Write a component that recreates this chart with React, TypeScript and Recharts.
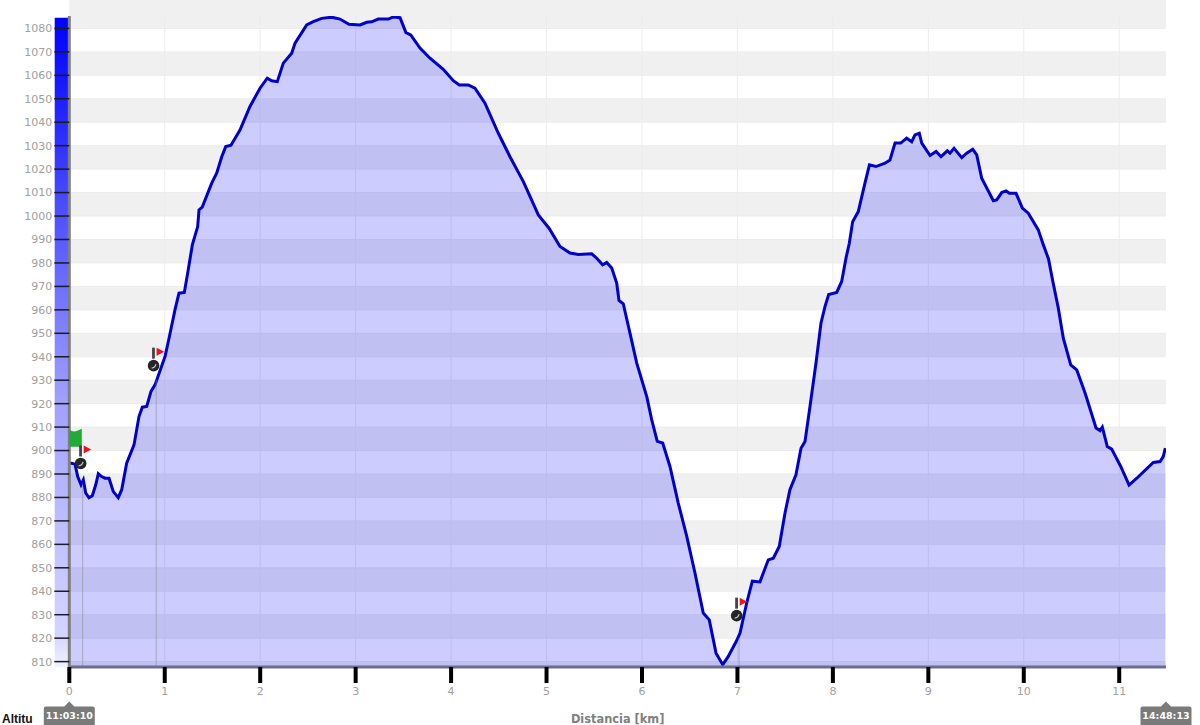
import { Area, AreaChart, CartesianGrid, ReferenceArea, ReferenceDot, ReferenceLine, XAxis, YAxis } from "recharts"

const distanceKm = [
  0, 0.025, 0.06, 0.088, 0.123, 0.147, 0.172, 0.206, 0.241, 0.277, 0.304, 0.339, 0.374, 0.416, 0.461, 0.513, 0.549, 0.601, 0.678, 0.73,
  0.765, 0.811, 0.856, 0.898, 1.003, 1.045, 1.107, 1.149, 1.205, 1.24, 1.289, 1.345, 1.359, 1.393, 1.492, 1.544, 1.597, 1.639, 1.694, 1.788,
  1.893, 1.998, 2.074, 2.121, 2.179, 2.242, 2.33, 2.365, 2.487, 2.556, 2.644, 2.749, 2.836, 2.93, 3.046, 3.116, 3.168, 3.237, 3.342, 3.395,
  3.465, 3.527, 3.577, 3.674, 3.779, 3.918, 4.023, 4.086, 4.18, 4.25, 4.355, 4.495, 4.617, 4.757, 4.914, 5.026, 5.141, 5.246, 5.333, 5.473,
  5.526, 5.588, 5.63, 5.683, 5.735, 5.759, 5.804, 5.874, 5.945, 6.05, 6.102, 6.16, 6.217, 6.293, 6.38, 6.469, 6.555, 6.642, 6.705, 6.776,
  6.846, 6.904, 6.992, 7.027, 7.097, 7.156, 7.236, 7.323, 7.376, 7.438, 7.498, 7.55, 7.613, 7.666, 7.708, 7.76, 7.823, 7.875, 7.917, 7.956,
  8.04, 8.092, 8.137, 8.172, 8.207, 8.266, 8.336, 8.383, 8.451, 8.546, 8.598, 8.651, 8.711, 8.773, 8.826, 8.86, 8.905, 8.931, 9.018, 9.081,
  9.133, 9.199, 9.227, 9.269, 9.35, 9.402, 9.465, 9.507, 9.559, 9.681, 9.716, 9.769, 9.814, 9.849, 9.919, 9.985, 10.047, 10.152, 10.205, 10.259,
  10.303, 10.362, 10.414, 10.492, 10.555, 10.642, 10.757, 10.799, 10.823, 10.875, 10.921, 11.016, 11.103, 11.184, 11.357, 11.428, 11.462, 11.483,
]

const altitudeM = [
  894.6, 894.6, 894.2, 888.9, 885.4, 887.5, 881.9, 879.9, 880.7, 885.4, 890.1, 888.9, 888.2, 888.2, 882.5, 879.9, 883.3, 894.6, 902.4, 914.5,
  918.5, 918.8, 925.2, 928, 940.1, 947.9, 960, 967.1, 967.4, 975.6, 987.7, 995.5, 1002.6, 1003.8, 1014, 1018.3, 1025.3, 1029.6, 1030.2, 1036.7,
  1046.7, 1054.5, 1058.8, 1057.7, 1057.3, 1065.2, 1069.4, 1073.7, 1081.5, 1082.9, 1084.3, 1084.8, 1084, 1081.8, 1081.5, 1082.6, 1082.8, 1084, 1084, 1084.9,
  1084.6, 1078.2, 1077.2, 1071.6, 1067.3, 1062.6, 1057.7, 1055.9, 1055.9, 1054.5, 1048.1, 1035.3, 1025.3, 1014.7, 1000.5, 994.8, 987, 984.2, 983.6, 983.9,
  982, 979.2, 980.2, 977.8, 971.4, 964, 962.6, 950.1, 937.3, 923, 913.1, 903.9, 903.2, 893.2, 877.6, 863.4, 847.8, 830.7, 827.8, 813.6,
  808.7, 812.2, 819, 822.2, 835, 844.3, 844, 853.4, 854.1, 859.1, 873.3, 883.3, 889.7, 901, 903.9, 918.8, 937.3, 954.3, 961.4, 966.5,
  967.4, 972.1, 982, 988.4, 997.6, 1001.9, 1014, 1021.8, 1021.1, 1022.5, 1023.9, 1031.1, 1031.1, 1033.2, 1031.7, 1034.6, 1035.3, 1031.1, 1025.8, 1027.5,
  1025.3, 1027.8, 1026.8, 1028.9, 1024.9, 1026.8, 1028.5, 1026.1, 1016.1, 1006.5, 1006.9, 1010, 1010.7, 1009.7, 1009.7, 1003.4, 1001.2, 994.1, 987.7, 981.7,
  972.4, 960.7, 947.9, 936.5, 934.4, 924.5, 909.6, 908.5, 910, 901.7, 900.6, 893.2, 885.3, 888.2, 894.9, 895.3, 897.5, 901,
]

const kmTicks = [0, 1, 2, 3, 4, 5, 6, 7, 8, 9, 10, 11]
const altTicks = [
  810, 820, 830, 840, 850, 860, 870, 880, 890, 900, 910, 920, 930, 940, 950, 960, 970, 980, 990, 1000, 1010, 1020, 1030, 1040, 1050, 1060,
  1070, 1080,
]

const lapKm = [0.119, 0.883, 6.992]
const lapAlt = [894.5, 936.2, 829.6]
const lapLineKm = [0.14, 0.91, 7.017]
const lapLineAlt = [886, 930, 820]

const startTime = "11:03:10"
const endTime = "14:48:13"

const minAlt = 807.7
const maxAlt = 1085.3
const maxKm = 11.49

const rows = distanceKm.map((km, i) => ({ km, alt: altitudeM[i] }))

const font = "'DejaVu Sans', Verdana, sans-serif"
const tickStyle = { fontSize: 11, fill: "#a0a0a0", fontFamily: font }

function LapMarker({ cx, cy }: any) {
  return (
    <g>
      <rect x={cx - 1.5} y={cy - 18} width={2.8} height={11} fill="#444444" />
      <path d={`M${cx + 3} ${cy - 18} L${cx + 10.5} ${cy - 14} L${cx + 3} ${cy - 10} Z`} fill="#f01020" />
      <circle cx={cx} cy={cy} r={5.8} fill="#262626" />
      <path d={`M${cx - 2} ${cy + 2.4} Q${cx + 1.5} ${cy + 2.2} ${cx + 2.4} ${cy - 1.5}`} stroke="#cccccc" strokeWidth={1.2} fill="none" />
    </g>
  )
}

function StartFlag({ cx, cy }: any) {
  return (
    <path
      d={`M${cx} ${cy - 9} Q${cx + 4} ${cy - 6} ${cx + 8} ${cy - 8} L${cx + 12.5} ${cy - 10} L${cx + 12.5} ${cy + 8} L${cx} ${cy + 8} Z`}
      fill="#20ab38"
    />
  )
}

function TimeBadge({ cx, cy, text }: any) {
  const top = cy + 39.5
  return (
    <g>
      <path
        d={`M${cx - 25.5} ${top + 2} Q${cx - 25.5} ${top} ${cx - 23.5} ${top} L${cx - 5} ${top} L${cx} ${top - 5} L${cx + 5} ${top} L${cx + 23.5} ${top} Q${cx + 25.5} ${top} ${cx + 25.5} ${top + 2} L${cx + 25.5} ${top + 19} L${cx - 25.5} ${top + 19} Z`}
        fill="#7a7a7a"
      />
      <text x={cx} y={top + 12.5} textAnchor="middle" fontSize={9.5} fontWeight="bold" fontFamily={font} fill="#ffffff">
        {text}
      </text>
    </g>
  )
}

export default function App() {
  return (
    <div style={{ position: "absolute", left: 0, top: 0, width: 1200, height: 725, background: "#fff", overflow: "hidden" }}>
      <AreaChart width={1200} height={725} data={rows} margin={{ top: 16, right: 34, bottom: 0, left: 0 }}>
        <defs>
          <linearGradient id="altStrip" x1="0" y1="0" x2="0" y2="1">
            <stop offset="0" stopColor="#0000ff" />
            <stop offset="0.17" stopColor="#2a2aff" />
            <stop offset="0.59" stopColor="#a0a0ff" />
            <stop offset="0.74" stopColor="#b8b8ff" />
            <stop offset="0.95" stopColor="#d4d4ff" />
            <stop offset="1" stopColor="#f2f2ff" />
          </linearGradient>
        </defs>
        <CartesianGrid stroke="#ececec" horizontalFill={["#f0f0f0", "#ffffff"]} syncWithTicks />
        <XAxis
          dataKey="km"
          type="number"
          domain={[0, maxKm]}
          ticks={kmTicks}
          interval={0}
          height={58}
          allowDataOverflow
          tick={tickStyle}
          tickSize={16}
          tickMargin={4}
          tickLine={{ stroke: "#000000", strokeWidth: 4 }}
          axisLine={{ stroke: "#6c6c8c", strokeWidth: 3 }}
          label={{
            value: "Distancia [km]",
            position: "insideBottom",
            offset: 2,
            style: { fontSize: 11.4, fontWeight: "bold", fill: "#808080", fontFamily: font },
          }}
        />
        <YAxis
          type="number"
          domain={[minAlt, maxAlt]}
          ticks={altTicks}
          interval={0}
          width={69.3}
          allowDataOverflow
          tick={tickStyle}
          tickSize={15}
          tickMargin={2}
          tickLine={{ stroke: "#1a1a2a", strokeWidth: 1.5 }}
          axisLine={{ stroke: "#808080", strokeWidth: 3 }}
        />
        <ReferenceArea x1={-0.153} x2={0} y1={minAlt} y2={1084.6} ifOverflow="visible" fill="url(#altStrip)" fillOpacity={1} stroke="none" />
        <Area
          type="linear"
          dataKey="alt"
          stroke="#0000c8"
          strokeWidth={3}
          fill="#0000ff"
          fillOpacity={0.2}
          dot={false}
          activeDot={false}
          isAnimationActive={false}
        />
        {lapLineKm.map((km, i) => (
          <ReferenceLine
            key={km}
            segment={[
              { x: km, y: lapLineAlt[i] },
              { x: km, y: minAlt },
            ]}
            stroke="#888888"
            strokeOpacity={0.55}
          />
        ))}
        <ReferenceDot x={0} y={905} ifOverflow="visible" shape={<StartFlag />} />
        {lapKm.map((km, i) => (
          <ReferenceDot key={km} x={km} y={lapAlt[i]} ifOverflow="visible" shape={<LapMarker />} />
        ))}
        <ReferenceDot x={0} y={minAlt} ifOverflow="visible" shape={<TimeBadge text={startTime} />} />
        <ReferenceDot x={maxKm} y={minAlt} ifOverflow="visible" shape={<TimeBadge text={endTime} />} />
        <text x={2} y={722.5} fontSize={12} fontWeight="bold" fontFamily="'Liberation Sans', Arial, sans-serif" fill="#111111">
          Altitu
        </text>
      </AreaChart>
    </div>
  )
}
